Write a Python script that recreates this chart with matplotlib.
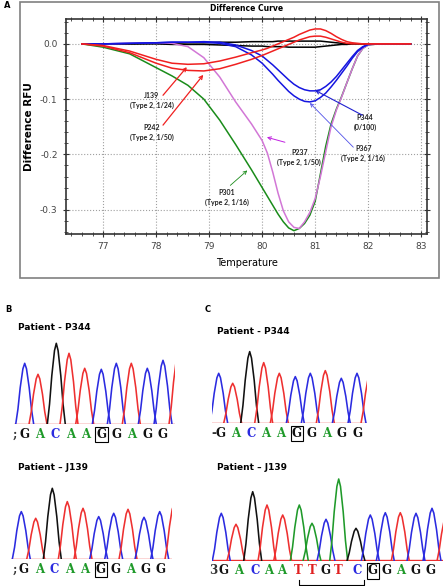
import matplotlib
matplotlib.use("Agg")
import matplotlib.pyplot as plt
from matplotlib.patches import Rectangle
from matplotlib.ticker import MultipleLocator

# ---- panel A: difference curves ----
temp = [76.6, 77.0, 77.5, 78.0, 78.3, 78.6, 78.9, 79.2, 79.5, 79.8,
        80.0, 80.1, 80.2, 80.3, 80.4, 80.5, 80.6, 80.7, 80.8, 80.9,
        81.0, 81.1, 81.2, 81.3, 81.4, 81.5, 81.6, 81.7, 81.8, 81.9,
        82.0, 82.2, 82.5, 82.8]

p301 = [0, -0.006, -0.018, -0.043, -0.058, -0.075, -0.1, -0.138, -0.182, -0.228,
        -0.26, -0.276, -0.292, -0.308, -0.322, -0.333, -0.338, -0.334, -0.325, -0.31,
        -0.285, -0.235, -0.185, -0.145, -0.118, -0.095, -0.07, -0.045, -0.022, -0.008,
        -0.002, 0, 0, 0]
p237 = [0, 0, 0.001, 0.002, 0.001, -0.005, -0.025, -0.06, -0.105, -0.145,
        -0.175, -0.198, -0.232, -0.27, -0.302, -0.322, -0.332, -0.334, -0.322, -0.305,
        -0.28, -0.24, -0.195, -0.15, -0.12, -0.096, -0.07, -0.045, -0.022, -0.008,
        -0.002, 0, 0, 0]
j139 = [0, -0.003, -0.013, -0.028, -0.035, -0.037, -0.036, -0.031, -0.024, -0.016,
        -0.011, -0.008, -0.004, 0.0, 0.004, 0.008, 0.012, 0.017, 0.021, 0.025,
        0.027, 0.027, 0.024, 0.019, 0.013, 0.008, 0.004, 0.002, 0.001, 0,
        0, 0, 0, 0]
p242 = [0, -0.004, -0.016, -0.035, -0.044, -0.048, -0.049, -0.045, -0.037, -0.028,
        -0.021, -0.017, -0.013, -0.009, -0.005, -0.001, 0.003, 0.007, 0.01, 0.013,
        0.014, 0.014, 0.012, 0.009, 0.006, 0.003, 0.001, 0, 0, 0,
        0, 0, 0, 0]
p344 = [0, 0, 0.001, 0.002, 0.003, 0.003, 0.004, 0.003, -0.002, -0.012,
        -0.022, -0.03, -0.038, -0.047, -0.056, -0.065, -0.073, -0.079, -0.083, -0.085,
        -0.085, -0.083, -0.077, -0.069, -0.059, -0.047, -0.035, -0.023, -0.012, -0.005,
        -0.001, 0, 0, 0]
p367 = [0, 0, 0.001, 0.002, 0.003, 0.003, 0.003, 0.001, -0.005, -0.02,
        -0.035, -0.045, -0.055, -0.066, -0.076, -0.086, -0.094, -0.1, -0.104, -0.105,
        -0.103, -0.097, -0.089, -0.078, -0.066, -0.053, -0.04, -0.026, -0.014, -0.006,
        -0.001, 0, 0, 0]
ctrl1 = [0, 0, 0, 0.001, 0.001, 0.002, 0.002, 0.003, 0.003, 0.004,
         0.004, 0.004, 0.004, 0.005, 0.005, 0.005, 0.005, 0.005, 0.005, 0.005,
         0.005, 0.005, 0.004, 0.003, 0.002, 0.001, 0, 0, 0, 0,
         0, 0, 0, 0]
ctrl2 = [0, 0, 0, 0, -0.001, -0.001, -0.001, -0.002, -0.003, -0.004,
         -0.004, -0.005, -0.005, -0.005, -0.005, -0.006, -0.006, -0.006, -0.006, -0.006,
         -0.006, -0.005, -0.004, -0.003, -0.002, -0.001, -0.001, 0, 0, 0,
         0, 0, 0, 0]

# ---- panels B and C: chromatogram peaks (scan position, height, colour) ----
b1_pos = [10.7, 24, 42.3, 55, 70.7, 87.3, 102.3, 117.3, 133.3, 149, 164]
b1_hgt = [61, 50, 81, 71, 56, 55, 61, 61, 56, 64, 70]
b1_col = ["b", "r", "k", "r", "r", "b", "b", "r", "b", "b", "r"]
b1_seq = ";GACAAGGAGG"
b1_seqpos = [1, 10, 25.4, 40.8, 56.2, 71.6, 87.5, 102.4, 117.8, 133.2, 148.6]

b2_pos = [10.3, 24.7, 41.3, 56.3, 72, 87.7, 102.7, 117, 133, 148.7, 163]
b2_hgt = [47.7, 41, 71, 57.7, 51, 42.7, 46, 50, 42, 47.7, 55]
b2_col = ["b", "r", "k", "r", "r", "b", "b", "r", "b", "b", "r"]
b2_seq = ";GACAAGGAGG"
b2_seqpos = [3.5, 13, 28.2, 43.4, 58.6, 73.8, 90, 104.2, 119.4, 134.6, 149.8]

c1_pos = [6.7, 20.7, 37.7, 51.7, 67.3, 83.3, 98.3, 113.3, 129.3, 145, 158]
c1_hgt = [50, 40, 71.7, 60.7, 50, 46.7, 50, 52.7, 45, 50, 50]
c1_col = ["b", "r", "k", "r", "r", "b", "b", "r", "b", "b", "r"]
c1_seq = "-GACAAGGAGG"
c1_seqpos = [1.5, 8.3, 23.5, 38.7, 53.9, 69.1, 85, 99.5, 114.7, 129.9, 145.1]

c2_pos = [9.3, 24, 40.7, 55, 70.7, 87.3, 100, 114, 126.7, 144, 158.3, 173.3, 188.3, 204, 220, 234]
c2_hgt = [47.7, 36.7, 69.3, 56, 46, 56, 37.7, 41.7, 82, 32.7, 46, 48.3, 48.3, 47.7, 52.7, 45]
c2_col = ["b", "r", "k", "r", "r", "g", "g", "b", "g", "k", "b", "b", "r", "b", "b", "r"]
c2_seq = "3GACAATTGTCGGAGG"
c2_seqpos = [1.7, 11.7, 26.7, 42.7, 56.7, 70, 86, 100, 113.3, 126.7, 145, 160.7, 175, 188.3, 203.3, 218.3]

TRACE = {"b": "#2b2be0", "r": "#ee3030", "k": "#111111", "g": "#1f9a2a"}
BASE = {"G": "#111111", "A": "#1f9a2a", "C": "#2b2be0", "T": "#e02020"}
# shape used to draw one peak (offsets in half-widths, relative height)
PEAK_X = [-1, -0.75, -0.5, -0.2, 0, 0.2, 0.5, 0.75, 1]
PEAK_Y = [0, 0.25, 0.6, 0.91, 1, 0.91, 0.6, 0.25, 0]
HALF_W = 9

W, H = 445, 586
fig = plt.figure(figsize=(W / 100, H / 100), dpi=100)


def px_axes(left, top, right, bottom):
    return fig.add_axes([left / W, 1 - bottom / H, (right - left) / W, (bottom - top) / H])


# ---------------- panel A ----------------
fig.patches.append(Rectangle((20 / W, 1 - 278 / H), 419 / W, 276 / H, transform=fig.transFigure,
                             fill=False, ec="#808080", lw=1.2))
fig.text(4 / W, 1 - 6 / H, "A", fontsize=6, fontweight="bold", va="center")

ax = px_axes(66, 19, 427, 234)
ax.plot(temp, ctrl1, color="black", lw=1.1)
ax.plot(temp, ctrl2, color="black", lw=1.1)
ax.plot(temp, p301, color="#1a8c1a", lw=1.1)
ax.plot(temp, p237, color="#d277d6", lw=1.1)
ax.plot(temp, p344, color="#1515e0", lw=1.1)
ax.plot(temp, p367, color="#1515e0", lw=1.1)
ax.plot(temp, j139, color="#f02020", lw=1.1)
ax.plot(temp, p242, color="#f02020", lw=1.1)
ax.set_xlim(76.3, 83.11)
ax.set_ylim(-0.344, 0.045)
ax.xaxis.set_major_locator(MultipleLocator(1))
ax.xaxis.set_minor_locator(MultipleLocator(0.2))
ax.yaxis.set_minor_locator(MultipleLocator(0.02))
ax.set_yticks([0.0, -0.1, -0.2, -0.3])
ax.set_yticklabels(["0.0", "-0.1", "-0.2", "-0.3"])
ax.tick_params(which="both", direction="inout", top=True, right=True, colors="#333333",
               labelsize=6.5, labelcolor="#444444", pad=4)
ax.tick_params(which="major", length=4)
ax.tick_params(which="minor", length=2.5)
ax.grid(True, which="major", ls=":", color="#a0a0a0", lw=0.8)
for s in ax.spines.values():
    s.set_color("#333333")
    s.set_linewidth(1.2)
ax.set_title("Difference Curve", fontsize=5.5, fontweight="bold", pad=6)
ax.set_xlabel("Temperature", fontsize=7, labelpad=5)
ax.set_ylabel("Difference RFU", fontsize=7.5, fontweight="bold", labelpad=4)

notes = [
    ("J139\n(Type 2, 1/24)", (77.92, -0.102), (78.13, -0.093), (78.58, -0.042), "#f02020", 0.9),
    ("P242\n(Type 2, 1/50)", (77.92, -0.16), (78.13, -0.147), (78.89, -0.056), "#f02020", 0.9),
    ("P344\n(0/100)", (81.94, -0.142), (81.89, -0.129), (81.0, -0.084), "#2020d0", 0.8),
    ("P367\n(Type 2, 1/16)", (81.91, -0.198), (81.72, -0.187), (80.9, -0.107), "#5050e8", 0.6),
    ("P237\n(Type 2, 1/50)", (80.7, -0.205), (80.43, -0.178), (80.09, -0.169), "#c020e0", 0.7),
    ("P301\n(Type 2, 1/16)", (79.34, -0.278), (79.4, -0.256), (79.72, -0.229), "#1a8c1a", 0.6),
]
for label, txy, a0, a1, col, lw in notes:
    ax.text(txy[0], txy[1], label, fontsize=5, fontfamily="Lato", fontweight="bold",
            ha="center", va="center", linespacing=1.45, color="#222222")
    ax.annotate("", xy=a1, xytext=a0,
                arrowprops=dict(arrowstyle="->", color=col, lw=lw, shrinkA=0, shrinkB=0,
                                mutation_scale=6))


# ---------------- panels B and C ----------------
def chromatogram(left, right, baseline, pos, hgt, col, seq, seqpos, boxed):
    cx = px_axes(left, baseline - 90, right, baseline)
    cx.set_xlim(0, right - left)
    cx.set_ylim(0, 90)
    cx.axis("off")
    cx.plot([0, right - left], [0.6, 0.6], color=TRACE["r"], lw=1.0)
    cx.plot([0, right - left], [0.2, 0.2], color=TRACE["b"], lw=0.6)
    for p, h, c in zip(pos, hgt, col):
        xs = [p + HALF_W * u for u in PEAK_X]
        ys = [h * v for v in PEAK_Y]
        cx.plot(xs, ys, color=TRACE[c], lw=1.15, solid_joinstyle="round")
    for i, (ch, x) in enumerate(zip(seq, seqpos)):
        kw = {}
        if i == boxed:
            kw["bbox"] = dict(boxstyle="square,pad=0.1", fc="none", ec="black", lw=0.8)
        cx.text(x, -10, ch, color=BASE.get(ch, "#333333"), fontsize=8.5,
                fontfamily="DejaVu Serif", fontweight="bold", ha="center", va="center",
                clip_on=False, **kw)
    return cx


fig.text(5 / W, 1 - 309 / H, "B", fontsize=6, fontweight="bold", va="center")
fig.text(205 / W, 1 - 309 / H, "C", fontsize=6, fontweight="bold", va="center")
fig.text(18 / W, 1 - 328 / H, "Patient - P344", fontsize=6.5, fontweight="bold", va="center")
fig.text(18 / W, 1 - 468 / H, "Patient \u2013 J139", fontsize=6.5, fontweight="bold", va="center")
fig.text(217 / W, 1 - 332 / H, "Patient - P344", fontsize=6.5, fontweight="bold", va="center")
fig.text(217 / W, 1 - 467 / H, "Patient \u2013 J139", fontsize=6.5, fontweight="bold", va="center")

chromatogram(14, 175, 424.3, b1_pos, b1_hgt, b1_col, b1_seq, b1_seqpos, 6)
chromatogram(11, 172, 559.3, b2_pos, b2_hgt, b2_col, b2_seq, b2_seqpos, 6)
chromatogram(212, 367, 423.3, c1_pos, c1_hgt, c1_col, c1_seq, c1_seqpos, 6)
cx = chromatogram(212, 443, 561, c2_pos, c2_hgt, c2_col, c2_seq, c2_seqpos, 11)
# bracket under the TTGTC insertion
cx.plot([86.7, 86.7, 151.7, 151.7], [-19, -24, -24, -19], color="black", lw=0.8, clip_on=False)

fig.savefig("out.png", dpi=100)
